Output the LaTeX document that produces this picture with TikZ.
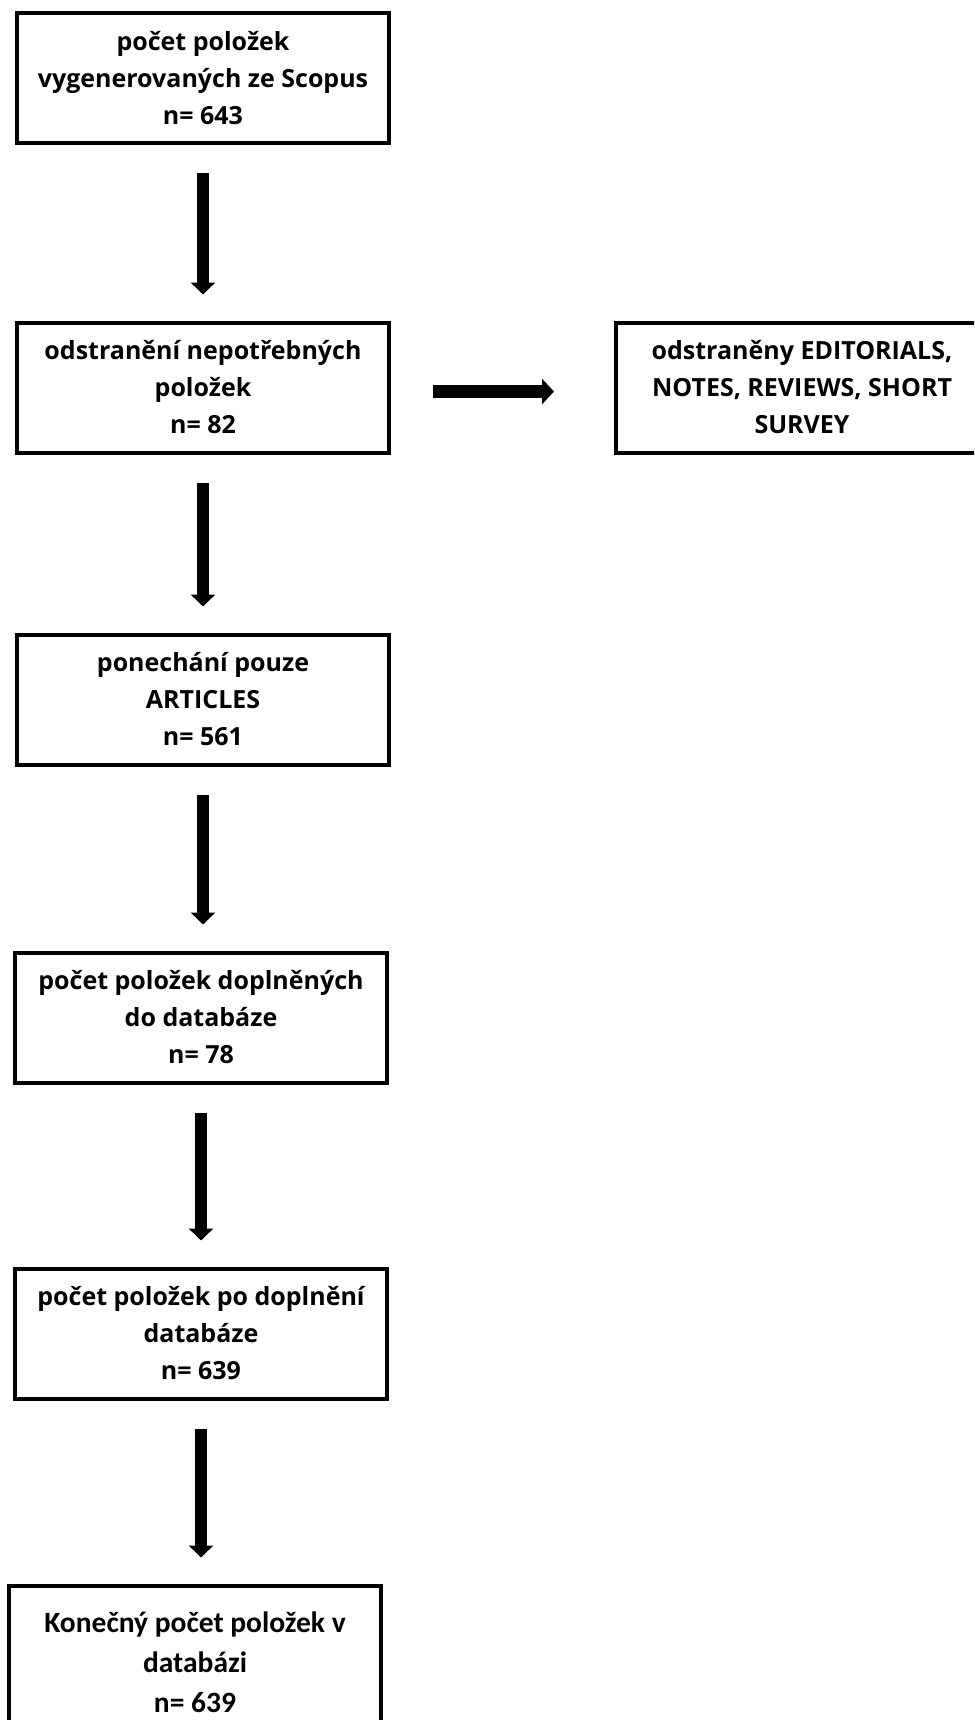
\documentclass[tikz,border=0pt]{standalone}
\usepackage{fontspec}
\setmainfont{Open Sans}
\newfontfamily\calibrifont{Carlito}
\usetikzlibrary{arrows.meta,positioning}

\begin{document}
\begin{tikzpicture}[
    krok/.style={draw,line width=4pt,minimum width=372pt,minimum height=130pt,align=center,font=\bfseries\fontsize{25}{37}\selectfont},
    sipka/.style={line width=12pt,-{Triangle[width=24pt,length=12pt]},shorten <=28pt,shorten >=26pt},
    sipkabok/.style={line width=13pt,-{Triangle[width=25pt,length=12pt]},shorten <=42pt,shorten >=60pt}]
    \clip (0,0) rectangle (974pt,-1720pt);
    \useasboundingbox (0,0) rectangle (974pt,-1720pt);
    \node[krok] (a) at (203pt,-78.5pt) {počet položek\\vygenerovaných ze Scopus\\n= 643};
    \node[krok,below=175pt of a] (b) {odstranění nepotřebných\\položek\\n= 82};
    \node[krok,right=223pt of b] (b2) {odstraněny EDITORIALS,\\NOTES, REVIEWS, SHORT\\SURVEY};
    \node[krok,below=178pt of b] (c) {ponechání pouze\\ARTICLES\\n= 561};
    \node[krok,below=184pt of c,xshift=-2pt] (d) {počet položek doplněných\\do databáze\\n= 78};
    \node[krok,below=182pt of d] (e) {počet položek po doplnění\\databáze\\n= 639};
    \node[krok,below=183pt of e,xshift=-6pt,minimum height=154pt,font=\calibrifont\bfseries\fontsize{29.5}{40}\selectfont] (f) {Konečný počet položek v\\databázi\\n= 639};
    \draw[sipka] (a) -- (b);
    \draw[sipka] (b) -- (c);
    \draw[sipka] (c.south) -- (c.south |- d.north);
    \draw[sipka] (d) -- (e);
    \draw[sipka] (e.south) -- (e.south |- f.north);
    \draw[sipkabok] ([yshift=-4pt]b.east) -- ([yshift=-4pt]b.east -| b2.west);
\end{tikzpicture}
\end{document}
